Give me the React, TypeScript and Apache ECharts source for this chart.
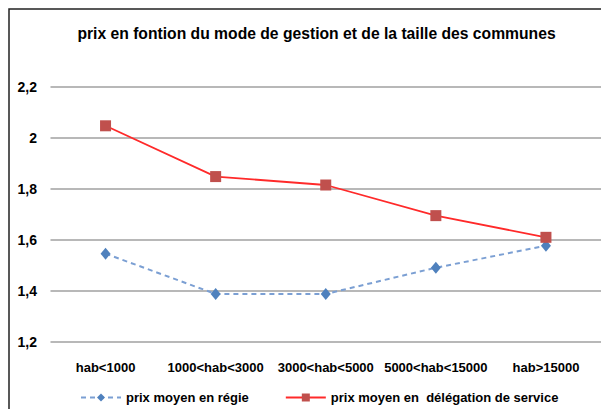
import React, { useEffect, useRef } from "react";
import * as echarts from "echarts";

const categories = ["hab<1000", "1000<hab<3000", "3000<hab<5000", "5000<hab<15000", "hab>15000"];
const regieValues = [1.545, 1.387, 1.387, 1.49, 1.576];
const delegationValues = [2.046, 1.847, 1.814, 1.694, 1.609];
const seriesNames = ["prix moyen en régie", "prix moyen en  délégation de service"];
const titleText = "prix en fontion du mode de gestion et de la taille des communes";

const FONT = "'Liberation Sans', Arial, sans-serif";

export default function App() {
  const ref = useRef<HTMLDivElement>(null);
  useEffect(() => {
    if (!ref.current) return;
    const chart = echarts.init(ref.current, undefined, { renderer: "svg" });
    chart.setOption({
      animation: false,
      backgroundColor: "#ffffff",
      graphic: [
        {
          type: "rect",
          shape: { x: 9, y: 9, width: 700, height: 500 },
          style: { fill: "none", stroke: "#222222", lineWidth: 1.5 },
          silent: true,
        },
        {
          type: "text",
          x: 316.5,
          y: 33,
          scaleX: 0.923,
          style: {
            text: titleText,
            font: `bold 17px ${FONT}`,
            fill: "#000000",
            textAlign: "center",
            textVerticalAlign: "middle",
          },
        },
      ],
      grid: { left: 50.5, top: 86.5, width: 555, height: 255.2 },
      legend: {
        left: 75,
        top: 386,
        itemWidth: 40,
        itemHeight: 10,
        itemGap: 36,
        textStyle: { fontFamily: FONT, fontWeight: "bold", fontSize: 13, color: "#000" },
        data: seriesNames,
      },
      xAxis: {
        type: "category",
        data: categories,
        boundaryGap: true,
        axisLine: { show: false },
        axisTick: { show: false },
        axisLabel: {
          interval: 0,
          margin: 19,
          fontFamily: FONT,
          fontWeight: "bold",
          fontSize: 13,
          color: "#000",
        },
      },
      yAxis: {
        type: "value",
        min: 1.2,
        max: 2.2,
        interval: 0.2,
        axisLine: { show: false },
        axisTick: { show: false },
        splitLine: { lineStyle: { color: "#a0a0a0", width: 1.5 } },
        axisLabel: {
          margin: 13.5,
          fontFamily: FONT,
          fontWeight: "bold",
          fontSize: 14,
          color: "#000",
          formatter: (v: number) => {
            const r = Math.round(v * 10) / 10;
            return String(r).replace(".", ",");
          },
        },
      },
      series: [
        {
          name: seriesNames[0],
          type: "line",
          data: regieValues,
          symbol: "diamond",
          symbolSize: [10, 12],
          itemStyle: { color: "#4f81bd" },
          lineStyle: { color: "#7b9fd3", width: 2, type: [5, 4] },
        },
        {
          name: seriesNames[1],
          type: "line",
          data: delegationValues,
          symbol: "rect",
          symbolSize: 11,
          itemStyle: { color: "#c0504d" },
          lineStyle: { color: "#ff2a2a", width: 1.8 },
        },
      ],
    });
    return () => chart.dispose();
  }, []);
  return (
    <div
      ref={ref}
      style={{ position: "fixed", left: 0, top: 0, width: 601, height: 409 }}
    />
  );
}
